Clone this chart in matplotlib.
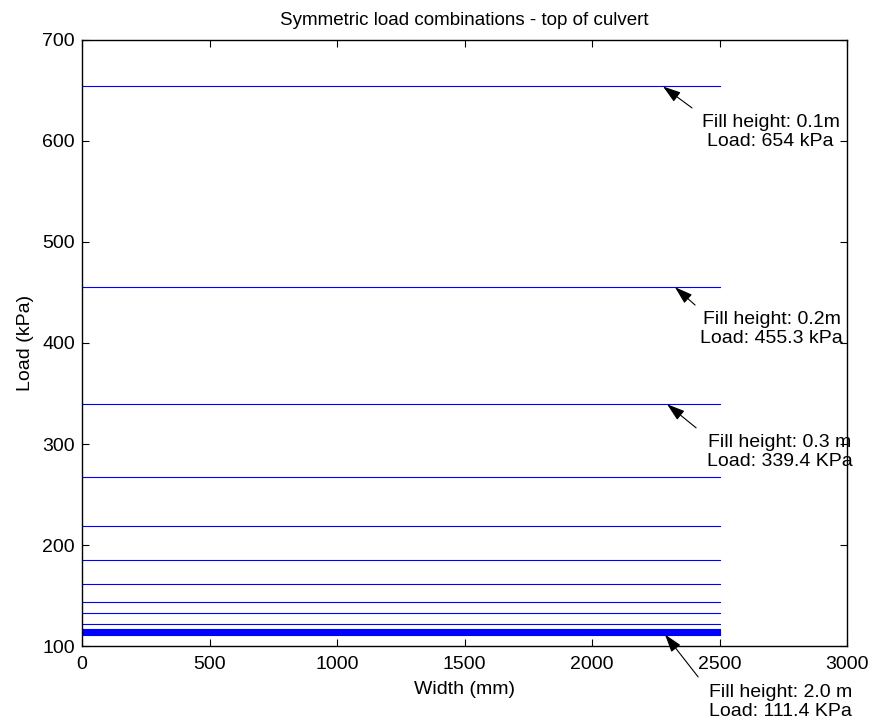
import numpy as np
import matplotlib.pyplot as plt

plt.rcParams['font.family'] = ['Liberation Sans', 'DejaVu Sans']

# width stations along the culvert top (mm)
width = [0, 650, 1300, 1950, 2500]

# fill heights (m) and the resulting uniform load (kPa)
fill_height = [0.1, 0.2, 0.3, 0.4, 0.5, 0.6, 0.7, 0.8, 0.9, 1.0,
               1.1, 1.2, 1.3, 1.4, 1.5, 1.6, 1.7, 1.8, 1.9, 2.0]
load = [654.0, 455.3, 339.4, 267.0, 218.8, 185.1, 161.1, 143.3, 132.4, 121.8,
        117.3, 116.0, 115.0, 114.1, 113.4, 112.8, 112.3, 111.9, 111.6, 111.4]

# labelled cases: (text, arrow tip, arrow tail, text centre)
notes = [
    ('Fill height: 0.1m\nLoad: 654 kPa', (2278, 654.0), (2392, 632.7), (2700, 609)),
    ('Fill height: 0.2m\nLoad: 455.3 kPa', (2325, 455.3), (2404, 437.6), (2705, 414)),
    ('Fill height: 0.3 m\nLoad: 339.4 KPa', (2294, 339.4), (2408, 316.0), (2735, 292)),
    ('Fill height: 2.0 m\nLoad: 111.4 KPa', (2286, 111.4), (2416, 69.4), (2740, 45)),
]

fig = plt.figure(figsize=(8.76, 7.24), dpi=100)
ax = fig.add_axes([0.0936, 0.1077, 0.8734, 0.8371])

for q in load:
    ax.plot(width, [q] * len(width), color=(0, 0, 1), linewidth=0.8)

for text, tip, tail, pos in notes:
    ax.annotate('', xy=tip, xytext=tail, annotation_clip=False,
                arrowprops=dict(arrowstyle='-|>,head_length=0.5,head_width=0.16',
                                color='black', lw=0.8, mutation_scale=22,
                                shrinkA=0, shrinkB=0))
    ax.text(pos[0], pos[1], text, ha='center', va='center', fontsize=14,
            linespacing=1.15, clip_on=False)

ax.set_xlim(0, 3000)
ax.set_ylim(100, 700)
ax.set_xticks(np.arange(0, 3001, 500))
ax.set_yticks(np.arange(100, 701, 100))
ax.tick_params(direction='in', top=True, right=True, labelsize=14, length=5)
ax.tick_params(axis='x', pad=7)
ax.tick_params(axis='y', pad=5)
for s in ax.spines.values():
    s.set_linewidth(1.0)

ax.set_xlabel('Width (mm)', fontsize=14, labelpad=6)
ax.set_ylabel('Load (kPa)', fontsize=14, labelpad=6)
ax.set_title('Symmetric load combinations - top of culvert', fontsize=13.5, pad=11)

fig.savefig('out.png', dpi=100)
